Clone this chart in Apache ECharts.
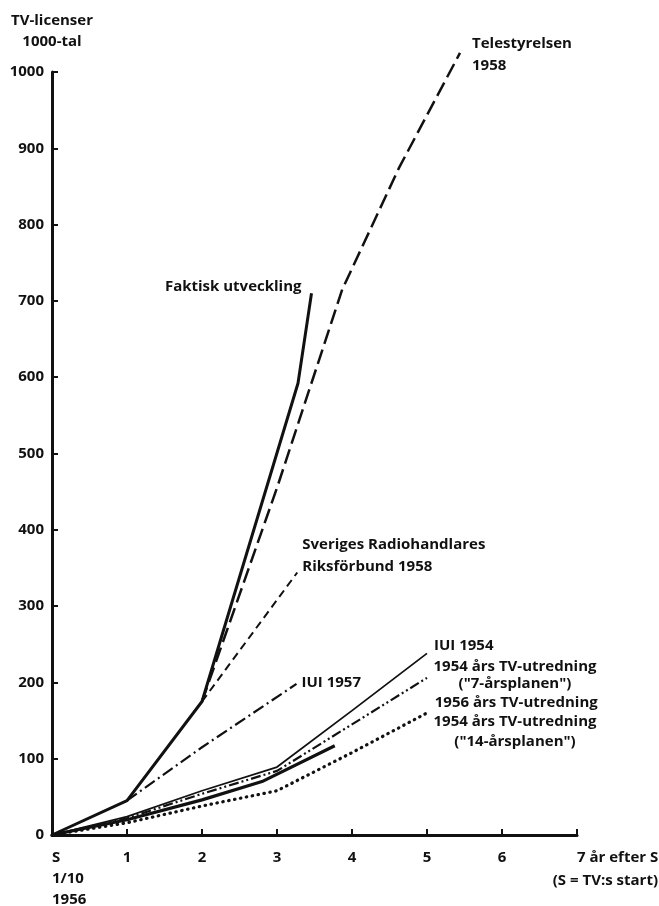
<!DOCTYPE html>
<html style="height: 100%">
<head>
    <meta charset="utf-8">
    <title>TV-licenser</title>
</head>
<body style="height: 100%; margin: 0; background: #fff">
<div id="container" style="width: 659px; height: 906px"></div>
<script type="text/javascript" src="https://cdn.jsdelivr.net/npm/echarts@6.0.0/dist/echarts.min.js"></script>
<script type="text/javascript">
// tick labels
var xTickLabels = ['S\n1/10\n1956', '1', '2', '3', '4', '5', '6', '7 år efter S'];
var xNote = '(S = TV:s start)';
var yName = 'TV-licenser\n1000-tal';

// [år efter S, TV-licenser i 1000-tal]
var faktisk = [[0, 0], [1, 45], [2, 175], [3.28, 592], [3.46, 710]];
var telestyrelsen = [[2, 175], [3, 455], [3.87, 715], [4.63, 875], [5.44, 1025]];
var radiohandlare = [[2, 175], [3.27, 344]];
var iui1957 = [[1, 45], [2, 115], [3.26, 198]];
var iui1954 = [[0, 0], [1, 24], [2, 58], [3, 89], [4, 163], [5, 238]];
var utr1954sju = [[0, 0], [1, 22], [2, 54], [3, 84], [4, 145], [5, 206]];
var utr1956 = [[0, 0], [1, 20], [2, 46], [2.8, 70], [3.77, 117]];
var utr1954fjorton = [[0, 0], [1, 16], [2, 38], [3, 58], [4, 108], [5, 160]];

var ink = '#111';
var font = 'Open Sans';
var textBase = { color: ink, fontFamily: font, fontWeight: 'bold', fontSize: 15 };

var dom = document.getElementById('container');
var myChart = echarts.init(dom);

// line with its name written at the last point
function curve(name, data, lineStyle, label) {
    var last = data.length - 1;
    return {
        name: name,
        type: 'line',
        clip: false,
        silent: true,
        animation: false,
        showSymbol: true,
        showAllSymbol: true,
        symbol: 'circle',
        symbolSize: 1,
        itemStyle: { color: 'rgba(0,0,0,0)' },
        label: { show: false },
        lineStyle: Object.assign({ color: ink }, lineStyle),
        data: data.map(function (p, i) {
            if (i !== last) return p;
            return {
                value: p,
                label: Object.assign({}, textBase, {
                    show: true,
                    position: 'inside',
                    formatter: name,
                    lineHeight: 22,
                    align: 'left',
                    verticalAlign: 'middle'
                }, label)
            };
        })
    };
}

var option = {
    backgroundColor: '#fff',
    textStyle: { fontFamily: font, color: ink },
    grid: { left: 52, right: 82, top: 72, bottom: 71, outerBoundsMode: 'none' },
    xAxis: {
        type: 'value',
        min: 0,
        max: 7,
        interval: 1,
        name: xNote,
        nameLocation: 'end',
        nameGap: 81,
        nameTextStyle: Object.assign({}, textBase, {
            align: 'right', verticalAlign: 'top', padding: [38, 0, 0, 0]
        }),
        axisLine: { onZero: false, lineStyle: { color: ink, width: 3 } },
        axisTick: { show: true, inside: true, length: 6, lineStyle: { color: ink, width: 2 } },
        splitLine: { show: false },
        axisLabel: Object.assign({}, textBase, {
            lineHeight: 21, margin: 12,
            alignMinLabel: 'left',
            alignMaxLabel: 'left',
            formatter: function (v) { return xTickLabels[v]; }
        })
    },
    yAxis: {
        type: 'value',
        min: 0,
        max: 1000,
        interval: 100,
        name: yName,
        nameLocation: 'end',
        nameGap: 20,
        nameTextStyle: Object.assign({}, textBase, { lineHeight: 21, align: 'center' }),
        axisLine: { show: true, onZero: false, lineStyle: { color: ink, width: 3 } },
        axisTick: { show: true, inside: true, length: 6, lineStyle: { color: ink, width: 2 } },
        splitLine: { show: false },
        axisLabel: Object.assign({}, textBase, {
            margin: 8,
            formatter: function (v) { return String(v); }
        })
    },
    series: [
        curve('Faktisk utveckling', faktisk,
            { width: 3, type: 'solid' },
            { align: 'right', offset: [-10, -7] }),
        curve('Telestyrelsen\n1958', telestyrelsen,
            { width: 2.5, type: [15, 6] },
            { offset: [12, 2] }),
        curve('Sveriges Radiohandlares\nRiksförbund 1958', radiohandlare,
            { width: 2, type: [8, 5] },
            { offset: [5, -17] }),
        curve('IUI 1957', iui1957,
            { width: 2.2, type: [12, 4, 2, 4] },
            { offset: [5, -1] }),
        curve('IUI 1954', iui1954,
            { width: 1.8, type: 'solid' },
            { offset: [7, -8] }),
        curve('1954 års TV-utredning\n("7-årsplanen")', utr1954sju,
            { width: 2.2, type: [10, 3, 2, 3, 2, 3] },
            { align: 'center', lineHeight: 17, offset: [88, -3] }),
        curve('1956 års TV-utredning', utr1956,
            { width: 3.2, type: 'solid' },
            { offset: [100, -43] }),
        curve('1954 års TV-utredning\n("14-årsplanen")', utr1954fjorton,
            { width: 3.2, type: [0.5, 5.5], cap: 'round' },
            { align: 'center', lineHeight: 20, offset: [88, 19] })
    ]
};

myChart.setOption(option);
window.onresize = function () {
    myChart.resize();
};
</script>
</body>
</html>
